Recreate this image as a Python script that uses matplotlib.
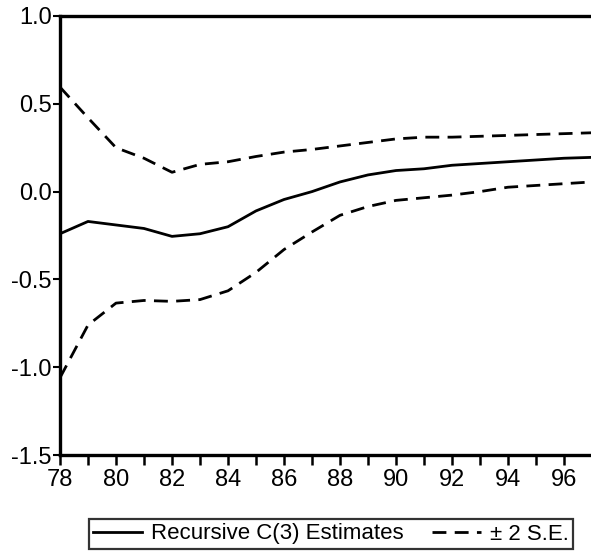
import matplotlib.pyplot as plt

plt.rcParams['font.family'] = ['Liberation Sans', 'DejaVu Sans']

# yearly recursive estimates of C(3), 1978-1997
years = list(range(78, 98))
estimate = [-0.24, -0.17, -0.19, -0.21, -0.255, -0.24, -0.20, -0.11, -0.045, 0.0,
            0.055, 0.095, 0.12, 0.13, 0.15, 0.16, 0.17, 0.18, 0.19, 0.195]
upper = [0.595, 0.42, 0.25, 0.19, 0.11, 0.155, 0.17, 0.20, 0.225, 0.24,
         0.26, 0.28, 0.30, 0.31, 0.31, 0.315, 0.32, 0.325, 0.33, 0.335]
lower = [-1.06, -0.76, -0.635, -0.62, -0.625, -0.615, -0.565, -0.46, -0.33, -0.23,
         -0.135, -0.085, -0.05, -0.035, -0.02, 0.0, 0.025, 0.035, 0.045, 0.055]

fig = plt.figure(figsize=(5.91, 5.53), dpi=100)
ax = fig.add_axes([60 / 591, 98 / 553, 532 / 591, 439 / 553])

ax.plot(years, estimate, color='black', lw=2.0, label='Recursive C(3) Estimates')
ax.plot(years, upper, color='black', lw=2.0, ls=(0, (5, 3)), label='± 2 S.E.')
ax.plot(years, lower, color='black', lw=2.0, ls=(0, (5, 3)))

ax.set_xlim(78, 97)
ax.set_ylim(-1.5, 1.0)
ax.set_xticks(years)
ax.set_xticklabels([str(y) if y % 2 == 0 else '' for y in years])
ax.set_yticks([-1.5, -1.0, -0.5, 0.0, 0.5, 1.0])
ax.set_yticklabels(['-1.5', '-1.0', '-0.5', '0.0', '0.5', '1.0'])
ax.tick_params(axis='x', direction='out', length=7, width=1.8, labelsize=17, pad=3)
ax.tick_params(axis='y', direction='out', length=5, width=1.5, labelsize=17, pad=1)
for s in ax.spines.values():
    s.set_linewidth(2.4)
ax.spines['right'].set_visible(False)

leg = fig.legend(loc='center', bbox_to_anchor=(331 / 591, 1 - 534 / 553), ncol=2,
                 fontsize=16, frameon=True, fancybox=False, edgecolor='black',
                 handlelength=2.2, columnspacing=1.3, borderpad=0.2, handletextpad=0.4)
leg.get_frame().set_linewidth(1.6)

plt.savefig('out.png', dpi=100)
